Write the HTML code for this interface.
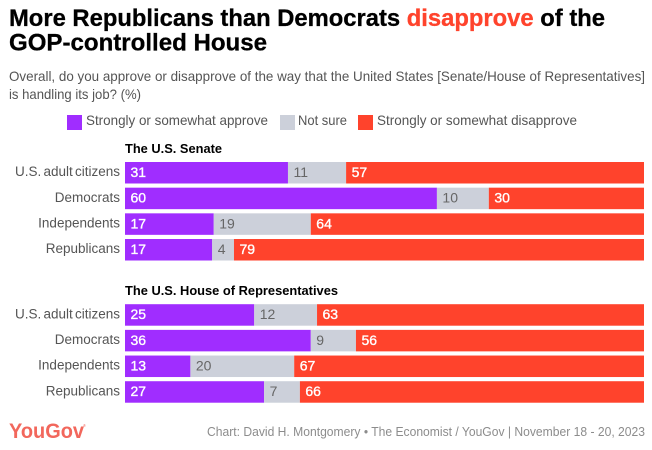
<!DOCTYPE html>
<html>
<head>
<meta charset="utf-8">
<style>
html,body{margin:0;padding:0;background:#fff;width:652px;height:450px;overflow:hidden}
svg{display:block;font-family:"Liberation Sans",sans-serif}
</style>
</head>
<body>
<svg id="chart" width="652" height="450" viewBox="0 0 652 450" xmlns="http://www.w3.org/2000/svg">
<rect width="652" height="450" fill="#fff"/>
<text x="9" y="26" font-size="24" font-weight="700" fill="#000" stroke="#000" stroke-width="0.3" textLength="596" lengthAdjust="spacingAndGlyphs">More Republicans than Democrats <tspan fill="#ff432c" stroke="#ff432c">disapprove</tspan> of the</text>
<text x="9" y="50.5" font-size="24" font-weight="700" fill="#000" stroke="#000" stroke-width="0.3" textLength="258" lengthAdjust="spacingAndGlyphs">GOP-controlled House</text>
<text x="9" y="81" font-size="14" fill="#555" textLength="636" lengthAdjust="spacingAndGlyphs">Overall, do you approve or disapprove of the way that the United States [Senate/House of Representatives]</text>
<text x="9" y="99" font-size="14" fill="#555" textLength="132" lengthAdjust="spacingAndGlyphs">is handling its job? (%)</text>
<g id="legend"></g>
<g id="panels"></g>
<text x="9" y="438" font-size="21" font-weight="700" fill="#f2675c" textLength="75" lengthAdjust="spacingAndGlyphs">YouGov</text>
<text x="83" y="427" font-size="4" fill="#f2675c">®</text>
<text x="645" y="436" font-size="13" fill="#8c8c8c" text-anchor="end" textLength="438" lengthAdjust="spacingAndGlyphs">Chart: David H. Montgomery • The Economist / YouGov | November 18 - 20, 2023</text>
</svg>
<script>
const seriesNames = ['Strongly or somewhat approve', 'Not sure', 'Strongly or somewhat disapprove'];
const groups = ['U.S. adult citizens', 'Democrats', 'Independents', 'Republicans'];
const senateApprove = [31.4, 60.1, 17.1, 16.8];
const senateNotSure = [11.2, 10.0, 18.7, 4.2];
const senateDisapprove = [57.4, 29.9, 64.2, 79.0];
const houseApprove = [24.9, 35.8, 12.6, 26.8];
const houseNotSure = [12.1, 8.7, 20.0, 6.9];
const houseDisapprove = [63.0, 55.5, 67.4, 66.3];

const NS = 'http://www.w3.org/2000/svg';
const colors = ['#a02dff', '#ccd0da', '#ff432c'];
const textColors = ['#fff', '#666', '#fff'];
const plotLeft = 125, plotWidth = 519;
const rowHeight = 21.5, rowStep = 25.67;

function make(tag, attrs, parent, text) {
  const el = document.createElementNS(NS, tag);
  for (const k in attrs) el.setAttribute(k, attrs[k]);
  if (text !== undefined) el.textContent = text;
  parent.appendChild(el);
  return el;
}
function slug(s) { return s.toLowerCase().replace(/[^a-z0-9]+/g, '-').replace(/^-|-$/g, ''); }
function xScale(share) { return plotLeft + share * plotWidth; }
function yScale(top, i) { return top + i * rowStep; }

const legend = document.getElementById('legend');
const legendLayout = [[67, 86, 182], [280, 298, 49], [358, 377, 200]];
seriesNames.forEach(function (name, i) {
  const swatch = make('rect', {x: legendLayout[i][0], y: 115, width: 15, height: 15, fill: colors[i]}, legend);
  
  
  const label = make('text', {x: legendLayout[i][1], y: 125, 'font-size': 14, fill: '#555', textLength: legendLayout[i][2], lengthAdjust: 'spacingAndGlyphs'}, legend, name);
  
  
});

function drawPanel(title, top, titleY, titleLen, series) {
  const root = document.getElementById('panels');
  const g = make('g', {}, root);
  
  
  const head = make('text', {x: 125, y: titleY, 'font-size': 13, 'font-weight': 700, fill: '#000', textLength: titleLen, lengthAdjust: 'spacingAndGlyphs'}, g, title);
  
  
  groups.forEach(function (group, i) {
    const y = yScale(top, i);
    const label = make('text', {x: 120, y: y + 14.2, 'font-size': 13.5, 'word-spacing': -1.5, fill: '#555', 'text-anchor': 'end'}, g, group);
    
    
    const total = series[0][i] + series[1][i] + series[2][i];
    let cum = 0;
    series.forEach(function (values, s) {
      const x0 = xScale(cum / total);
      cum += values[i];
      const x1 = xScale(cum / total);
      const bar = make('rect', {x: x0, y: y, width: x1 - x0, height: rowHeight, fill: colors[s]}, g);
      
      
      const attrs = {x: x0 + 5.5, y: y + 15, 'font-size': 14, fill: textColors[s]};
      if (s !== 1) { attrs.stroke = '#fff'; attrs['stroke-width'] = 0.35; }
      const val = make('text', attrs, g, Math.round(values[i]));
      
      
    });
  });
}
drawPanel('The U.S. Senate', 162, 153, 97, [senateApprove, senateNotSure, senateDisapprove]);
drawPanel('The U.S. House of Representatives', 304.2, 295, 213, [houseApprove, houseNotSure, houseDisapprove]);
</script>
</body>
</html>
